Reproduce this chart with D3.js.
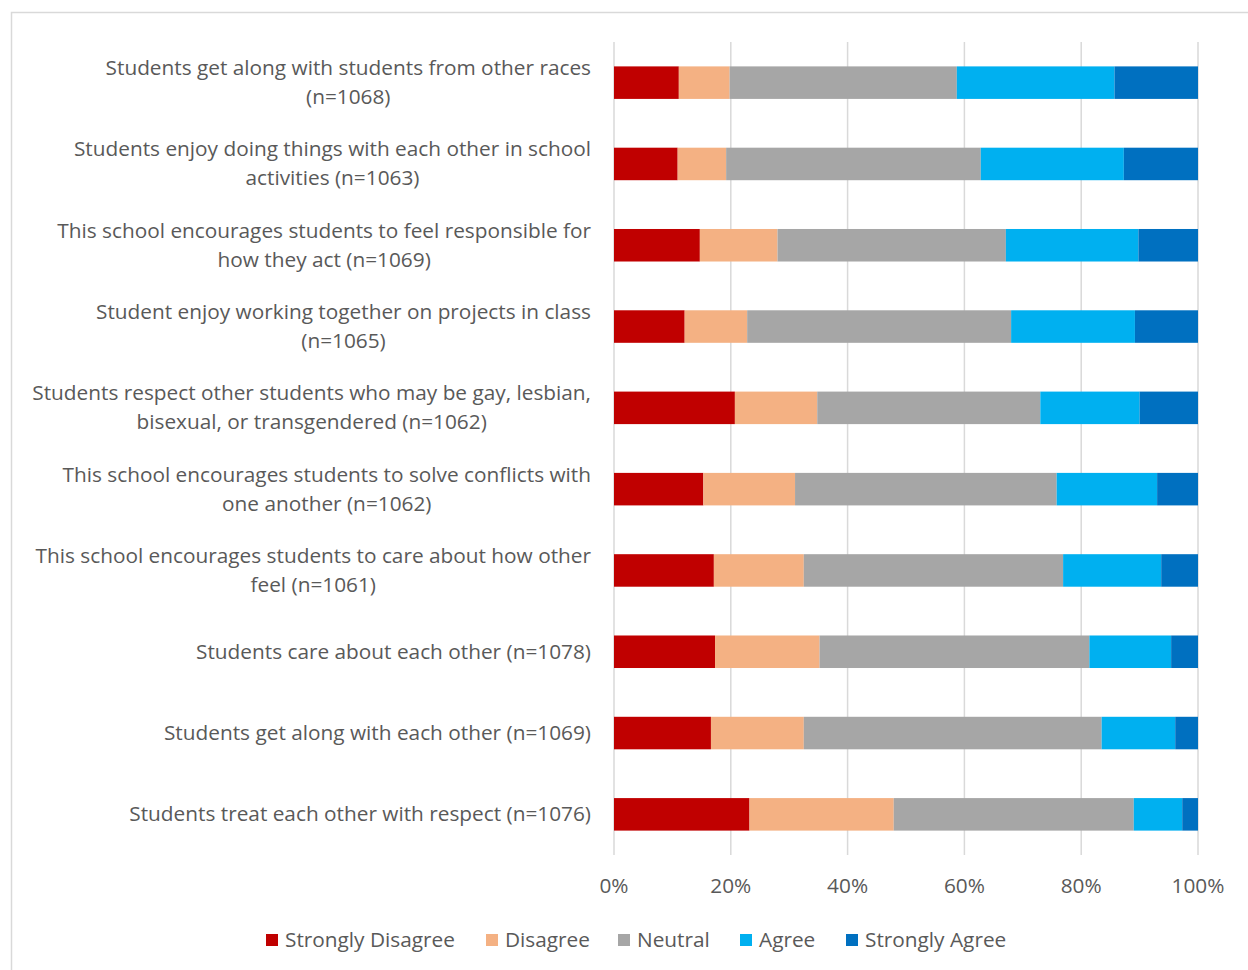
<!DOCTYPE html>
<html>
<head>
<meta charset="utf-8">
<script src="https://cdn.jsdelivr.net/npm/d3@7"></script>
<style>
  html, body { margin: 0; padding: 0; background: #fff; }
  svg { display: block; }
  text { font-family: "Open Sans", Lato, sans-serif; fill: #595959; }
</style>
</head>
<body>
<svg id="chart" width="1248" height="970"></svg>
<script>
// Survey items, top to bottom; each label is split into its displayed lines
const categories = [
  ["Students get along with students from other races", "(n=1068)"],
  ["Students enjoy doing things with each other in school", "activities (n=1063)"],
  ["This school encourages students to feel responsible for", "how they act (n=1069)"],
  ["Student enjoy working together on projects in class", "(n=1065)"],
  ["Students respect other students who may be gay, lesbian,", "bisexual, or transgendered (n=1062)"],
  ["This school encourages students to solve conflicts with", "one another (n=1062)"],
  ["This school encourages students to care about how other", "feel (n=1061)"],
  ["Students care about each other (n=1078)"],
  ["Students get along with each other (n=1069)"],
  ["Students treat each other with respect (n=1076)"]
];

// Percent of responses per item (same order as categories)
const stronglyDisagree = [11.1, 10.9, 14.7, 12.1, 20.7, 15.3, 17.1, 17.3, 16.6, 23.2];
const disagree         = [ 8.7,  8.3, 13.3, 10.7, 14.1, 15.7, 15.4, 17.9, 15.9, 24.7];
const neutral          = [38.9, 43.6, 39.1, 45.2, 38.2, 44.8, 44.4, 46.2, 51.0, 41.1];
const agree            = [27.0, 24.5, 22.7, 21.2, 17.0, 17.2, 16.8, 14.0, 12.6,  8.3];
const stronglyAgree    = [14.3, 12.7, 10.2, 10.8, 10.0,  7.0,  6.3,  4.6,  3.9,  2.7];

const seriesNames = ["Strongly Disagree", "Disagree", "Neutral", "Agree", "Strongly Agree"];
const seriesColors = ["#C00000", "#F4B183", "#A6A6A6", "#00B0F0", "#0070C0"];
const tickValues = [0, 20, 40, 60, 80, 100];

const svg = d3.select("#chart");
const fontSize = 20.8;

// Chart area outline
svg.append("rect")
  .attr("x", 11.5).attr("y", 12.5)
  .attr("width", 1300).attr("height", 1000)
  .attr("fill", "none").attr("stroke", "#D9D9D9").attr("stroke-width", 1.5);

const plot = { left: 614, right: 1198, top: 42, bottom: 855 };

const rows = categories.map((lines, i) => ({
  key: i,
  lines,
  values: [stronglyDisagree[i], disagree[i], neutral[i], agree[i], stronglyAgree[i]]
}));

const x = d3.scaleLinear().domain([0, 100]).range([plot.left, plot.right]);
const y = d3.scaleBand()
  .domain(rows.map(r => r.key))
  .range([plot.top, plot.bottom])
  .paddingInner(0.6).paddingOuter(0.3);

// Vertical gridlines
svg.append("g")
  .selectAll("line")
  .data(tickValues)
  .join("line")
  .attr("x1", d => x(d)).attr("x2", d => x(d))
  .attr("y1", plot.top).attr("y2", plot.bottom)
  .attr("stroke", "#D9D9D9").attr("stroke-width", 1.5);

// Stacked segments
const stackData = rows.map(r => {
  const o = { key: r.key };
  seriesNames.forEach((s, j) => { o[s] = r.values[j]; });
  return o;
});
const stacked = d3.stack().keys(seriesNames)(stackData);

svg.append("g")
  .selectAll("g")
  .data(stacked)
  .join("g")
  .attr("fill", (d, j) => seriesColors[j])
  .selectAll("rect")
  .data(d => d)
  .join("rect")
  .attr("x", d => x(d[0]))
  .attr("y", d => y(d.data.key))
  .attr("width", d => x(d[1]) - x(d[0]))
  .attr("height", y.bandwidth());

// Category labels: block right-aligned against the axis, lines centred within the block
const labelRight = 591;
const lineGap = 29;
const labelGroup = svg.append("g");
rows.forEach(r => {
  const cy = y(r.key) + y.bandwidth() / 2;
  const texts = r.lines.map((t, k) =>
    labelGroup.append("text")
      .attr("font-size", fontSize)
      .attr("text-anchor", "middle")
      .attr("y", cy + (k - (r.lines.length - 1) / 2) * lineGap + 7)
      .text(t));
  const maxW = d3.max(texts, t => t.node().getComputedTextLength());
  texts.forEach(t => t.attr("x", labelRight - maxW / 2));
});

// X axis tick labels
svg.append("g")
  .selectAll("text")
  .data(tickValues)
  .join("text")
  .attr("x", d => x(d))
  .attr("y", 893)
  .attr("text-anchor", "middle")
  .attr("font-size", fontSize)
  .text(d => d + "%");

// Legend
const legendX = [266, 486, 618, 740, 846];
const legend = svg.append("g")
  .selectAll("g")
  .data(seriesNames)
  .join("g")
  .attr("transform", (d, j) => `translate(${legendX[j]},940)`);
legend.append("rect")
  .attr("x", 0).attr("y", -6)
  .attr("width", 12).attr("height", 12)
  .attr("fill", (d, j) => seriesColors[j]);
legend.append("text")
  .attr("x", 19).attr("y", 7)
  .attr("font-size", fontSize)
  .text(d => d);
</script>
</body>
</html>
